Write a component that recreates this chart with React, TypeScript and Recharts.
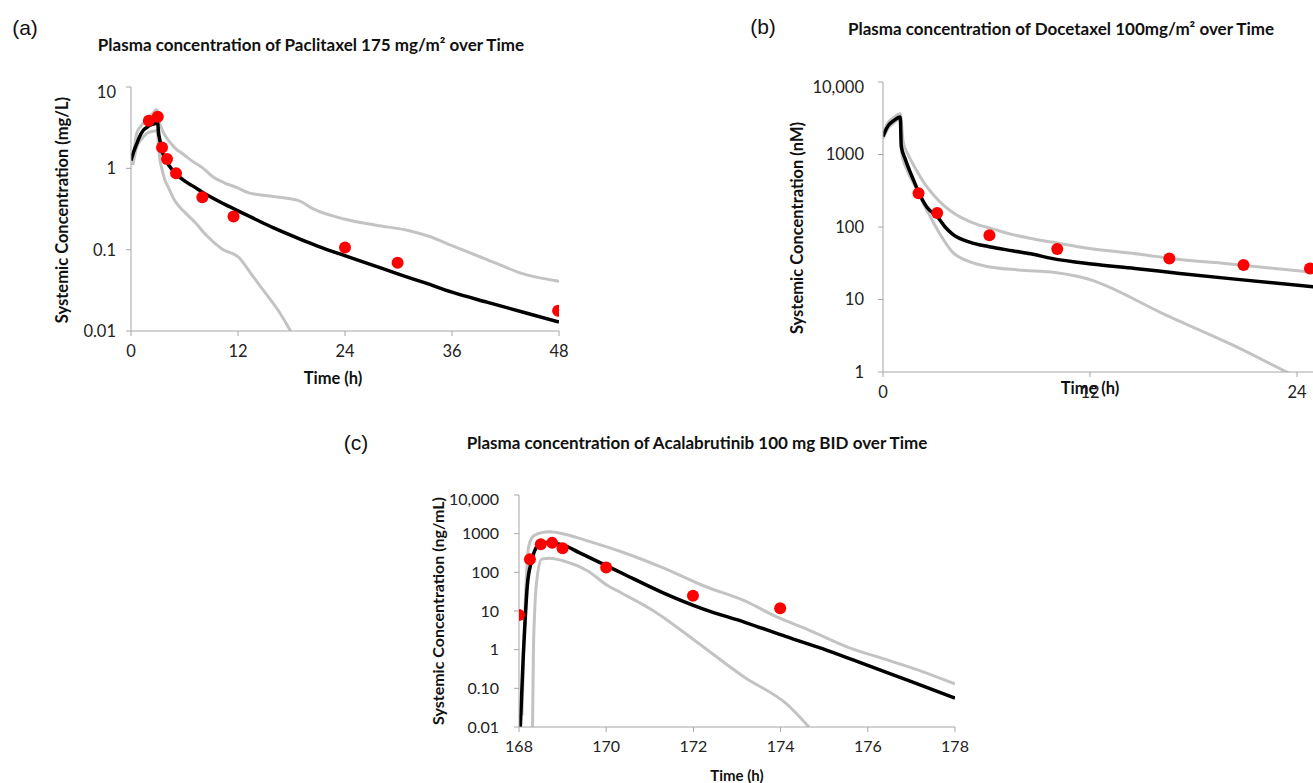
import React from "react";
import {
  ComposedChart,
  Line,
  Scatter,
  XAxis,
  YAxis,
} from "recharts";

// (a) Paclitaxel 175 mg/m2, mg/L
const paclitaxelMeanT = [0, 0.3, 0.64, 1.0, 1.38, 1.8, 2.13, 2.5, 2.88, 3.0, 3.06, 3.25, 3.44, 3.7, 4.0, 4.5, 5.12, 6.0, 7.0, 8.0, 9.0, 10.0, 11.0, 12.0, 14.0, 16.0, 18.95, 21.0, 23.9, 27.0, 30.0, 33.0, 36.0, 40.0, 44.0, 48.0];
const paclitaxelMeanV = [1.25, 1.6, 2.0, 2.5, 2.94, 3.2, 3.39, 3.5, 3.6, 3.7, 2.94, 2.2, 1.67, 1.4, 1.2, 1.0, 0.84, 0.7, 0.6, 0.51, 0.44, 0.385, 0.34, 0.3, 0.235, 0.185, 0.135, 0.11, 0.085, 0.065, 0.05, 0.039, 0.03, 0.0225, 0.017, 0.0129];
const paclitaxelHighT = [0.2, 0.64, 1.2, 1.76, 2.4, 2.88, 3.1, 3.6, 4.2, 5.0, 5.9, 7.0, 8.0, 9.3, 10.5, 11.9, 13.2, 16.0, 18.8, 20.5, 23.9, 27.5, 31.2, 33.5, 36.0, 40.0, 44.1, 48.0];
const paclitaxelHighV = [1.1, 2.7, 3.4, 3.9, 4.7, 5.3, 4.0, 2.8, 2.2, 1.75, 1.48, 1.2, 1.02, 0.77, 0.66, 0.58, 0.5, 0.45, 0.4, 0.315, 0.238, 0.2, 0.171, 0.145, 0.112, 0.075, 0.05, 0.041];
const paclitaxelLowT = [0.2, 0.64, 1.2, 1.76, 2.4, 2.9, 3.25, 3.5, 3.8, 4.2, 4.8, 5.5, 6.3, 7.2, 8.5, 10.2, 12.1, 13.5, 15.0, 16.5, 17.9];
const paclitaxelLowV = [1.1, 1.83, 2.3, 2.68, 2.85, 2.9, 1.26, 0.95, 0.72, 0.58, 0.42, 0.33, 0.27, 0.216, 0.148, 0.102, 0.08, 0.05, 0.03, 0.018, 0.01];
const paclitaxelObsT = [2.0, 3.0, 3.48, 4.04, 5.05, 8.0, 11.5, 24.0, 29.9, 47.9];
const paclitaxelObsV = [3.84, 4.3, 1.8, 1.3, 0.87, 0.44, 0.255, 0.106, 0.069, 0.0177];

// (b) Docetaxel 100 mg/m2, nM
const docetaxelMeanT = [0, 0.3, 0.6, 1.0, 1.06, 1.3, 1.7, 2.1, 2.55, 3.18, 3.6, 4.03, 5.1, 6.16, 7.5, 8.7, 9.77, 12.1, 14.6, 17.2, 20.4, 25.5];
const docetaxelMeanV = [1775, 2500, 2900, 3280, 1300, 850, 486, 290, 187, 136, 100, 80, 61, 53.5, 47, 42, 36.9, 30.8, 26.8, 22.9, 19.1, 14.6];
const docetaxelHighT = [0, 0.3, 0.6, 1.0, 1.17, 1.5, 1.9, 2.4, 2.97, 3.5, 4.2, 5.0, 5.5, 6.5, 7.2, 8.5, 9.77, 12.1, 15.1, 16.6, 20.4, 25.5];
const docetaxelHighV = [1900, 2750, 3200, 3640, 1500, 950, 630, 400, 270, 200, 150, 120, 108, 92, 82, 70, 62, 50, 41.5, 37, 30.5, 23];
const docetaxelLowT = [0, 0.3, 0.6, 1.0, 1.06, 1.4, 1.9, 2.3, 2.76, 3.3, 4.03, 4.9, 5.9, 7.85, 9.98, 12.1, 12.95, 16.1, 20.2, 23.4, 24.0];
const docetaxelLowV = [1650, 2300, 2700, 3100, 1135, 600, 353, 220, 136, 80, 45, 34, 29, 25.5, 23.6, 18.5, 15.4, 6.6, 2.4, 1.0, 0.85];
const docetaxelObsT = [2.06, 3.14, 6.17, 10.1, 16.6, 20.9, 24.75];
const docetaxelObsV = [292, 156, 77, 49.7, 36.9, 29.9, 26.8];

// (c) Acalabrutinib 100 mg BID, ng/mL
const acalaMeanT = [168.03, 168.1, 168.14, 168.19, 168.29, 168.43, 168.62, 169.0, 169.38, 170.33, 171.28, 172.23, 173.18, 174.13, 175.08, 176.03, 177.0, 178.0];
const acalaMeanV = [0.01, 0.78, 5.6, 45, 198, 483, 589, 513, 325, 99, 30.4, 11.2, 5.1, 2.17, 0.95, 0.38, 0.15, 0.056];
const acalaHighT = [168.07, 168.12, 168.17, 168.22, 168.33, 168.5, 168.7, 169.0, 169.57, 170.33, 171.28, 172.23, 173.18, 173.94, 174.6, 175.55, 176.5, 177.3, 178.0];
const acalaHighV = [0.02, 3, 80, 450, 870, 1050, 1120, 1000, 650, 345, 134, 45, 18.3, 6.8, 3.4, 1.15, 0.52, 0.26, 0.13];
const acalaLowT = [168.31, 168.33, 168.36, 168.42, 168.52, 168.71, 169.0, 169.57, 170.04, 170.33, 171.09, 172.04, 173.18, 174.13, 174.65];
const acalaLowV = [0.01, 0.8, 10, 80, 219, 233, 200, 110, 45, 30, 10, 1.7, 0.19, 0.04, 0.01];
const acalaObsT = [168.0, 168.25, 168.5, 168.76, 169.0, 170.0, 171.99, 173.99];
const acalaObsV = [7.9, 219, 533, 578, 421, 134, 24.8, 11.7];

const ticksA = [0, 12, 24, 36, 48];
const ticksB = [0, 12, 24, 36];
const ticksC = [168, 170, 172, 174, 176, 178];
const yTicksA = [0.01, 0.1, 1, 10];
const yLabelsA = ["0.01", "0.1", "1", "10"];
const yTicksB = [1, 10, 100, 1000, 10000];
const yLabelsB = ["1", "10", "100", "1000", "10,000"];
const yTicksC = [0.01, 0.1, 1, 10, 100, 1000, 10000];
const yLabelsC = ["0.01", "0.10", "1", "10", "100", "1000", "10,000"];

const zip = (t: number[], v: number[]) => t.map((x, i) => ({ t: x, v: v[i] }));

const AXIS = "#a6a6a6";
const GREY = "#c3c3c3";
const FONT = "Lato, 'Open Sans', sans-serif";

const dot = (p: any) => <circle cx={p.cx} cy={p.cy} r={6} fill="#ff0000" />;

type PanelProps = {
  left: number;
  top: number;
  plotW: number;
  plotH: number;
  yW: number;
  xDomain: [number, number];
  xTicks: number[];
  yDomain: [number, number];
  yTicks: number[];
  yLabels: string[];
  mean: { t: number; v: number }[];
  high: { t: number; v: number }[];
  low: { t: number; v: number }[];
  obs: { t: number; v: number }[];
  tickGap: number;
  fontSize: number;
};

function Panel(p: PanelProps) {
  const margin = { top: 5, right: 25, left: 0, bottom: 0 };
  const w = p.yW + p.plotW + margin.right;
  const h = margin.top + p.plotH + 34;
  const fmt = (v: number) => {
    const i = p.yTicks.findIndex((x) => Math.abs(x - v) / x < 1e-6);
    return i >= 0 ? p.yLabels[i] : String(v);
  };
  const tick = { fill: "#222", fontSize: p.fontSize, fontFamily: FONT };
  return (
    <div style={{ position: "absolute", left: p.left - p.yW, top: p.top - margin.top }}>
      <ComposedChart width={w} height={h} margin={margin}>
        <XAxis
          type="number"
          dataKey="t"
          domain={p.xDomain}
          ticks={p.xTicks}
          allowDataOverflow
          height={34}
          stroke={AXIS}
          tickSize={5}
          tickMargin={9}
          tick={tick}
        />
        <YAxis
          type="number"
          dataKey="v"
          scale="log"
          domain={p.yDomain}
          ticks={p.yTicks}
          allowDataOverflow
          width={p.yW}
          stroke={AXIS}
          tickSize={5}
          tickMargin={p.tickGap}
          tickFormatter={fmt}
          tick={tick}
        />
        <Line data={p.high} dataKey="v" type="monotone" stroke={GREY} strokeWidth={3} dot={false} isAnimationActive={false} />
        <Line data={p.low} dataKey="v" type="monotone" stroke={GREY} strokeWidth={3} dot={false} isAnimationActive={false} />
        <Line data={p.mean} dataKey="v" type="monotone" stroke="#000" strokeWidth={3.5} dot={false} isAnimationActive={false} />
        <Scatter data={p.obs} dataKey="v" shape={dot} isAnimationActive={false} />
      </ComposedChart>
    </div>
  );
}

const txt = (x: number, y: number, s: string, extra: React.CSSProperties = {}) => (
  <div
    style={{
      position: "absolute",
      left: x,
      top: y,
      transform: "translate(-50%, -50%)",
      whiteSpace: "nowrap",
      fontFamily: FONT,
      fontWeight: 700,
      fontSize: 17,
      color: "#111",
      ...extra,
    }}
  >
    {s}
  </div>
);

const letter = (x: number, y: number, s: string) =>
  txt(x, y, s, { fontFamily: "'Liberation Sans', Arial, sans-serif", fontWeight: 400, fontSize: 21 });

const ylab = (x: number, y: number, s: string, size = 16.5) =>
  txt(x, y, s, { fontSize: size, transform: "translate(-50%, -50%) rotate(-90deg)" });

export default function App() {
  return (
    <div
      style={{
        position: "absolute",
        left: 0,
        top: 0,
        width: 1313,
        height: 783,
        overflow: "hidden",
        background: "#fff",
      }}
    >
      {letter(25, 28, "(a)")}
      {txt(311, 44, "Plasma concentration of Paclitaxel 175 mg/m² over Time")}
      {ylab(62, 210, "Systemic Concentration (mg/L)")}
      {txt(333, 378, "Time (h)", { fontSize: 16.5 })}
      <Panel
        left={131}
        top={87}
        plotW={428}
        plotH={244}
        yW={60}
        xDomain={[0, 48]}
        xTicks={ticksA}
        yDomain={[0.01, 10]}
        yTicks={yTicksA}
        yLabels={yLabelsA}
        mean={zip(paclitaxelMeanT, paclitaxelMeanV)}
        high={zip(paclitaxelHighT, paclitaxelHighV)}
        low={zip(paclitaxelLowT, paclitaxelLowV)}
        obs={zip(paclitaxelObsT, paclitaxelObsV)}
        tickGap={10}
        fontSize={16.5}
      />

      {letter(763, 27, "(b)")}
      {txt(1061, 28, "Plasma concentration of Docetaxel 100mg/m² over Time")}
      {ylab(797, 228, "Systemic Concentration (nM)")}
      <Panel
        left={883}
        top={82}
        plotW={621}
        plotH={290}
        yW={75}
        xDomain={[0, 36]}
        xTicks={ticksB}
        yDomain={[1, 10000]}
        yTicks={yTicksB}
        yLabels={yLabelsB}
        mean={zip(docetaxelMeanT, docetaxelMeanV)}
        high={zip(docetaxelHighT, docetaxelHighV)}
        low={zip(docetaxelLowT, docetaxelLowV)}
        obs={zip(docetaxelObsT, docetaxelObsV)}
        tickGap={14}
        fontSize={16.5}
      />
      {txt(1090, 388, "Time (h)", { fontSize: 16.5 })}

      {letter(356, 443, "(c)")}
      {txt(697, 442, "Plasma concentration of Acalabrutinib 100 mg BID over Time")}
      {ylab(437, 611, "Systemic Concentration (ng/mL)", 16)}
      {txt(737, 775, "Time (h)", { fontSize: 15 })}
      <Panel
        left={519}
        top={495}
        plotW={436}
        plotH={232}
        yW={75}
        xDomain={[168, 178]}
        xTicks={ticksC}
        yDomain={[0.01, 10000]}
        yTicks={yTicksC}
        yLabels={yLabelsC}
        mean={zip(acalaMeanT, acalaMeanV)}
        high={zip(acalaHighT, acalaHighV)}
        low={zip(acalaLowT, acalaLowV)}
        obs={zip(acalaObsT, acalaObsV)}
        tickGap={15}
        fontSize={16}
      />
    </div>
  );
}
